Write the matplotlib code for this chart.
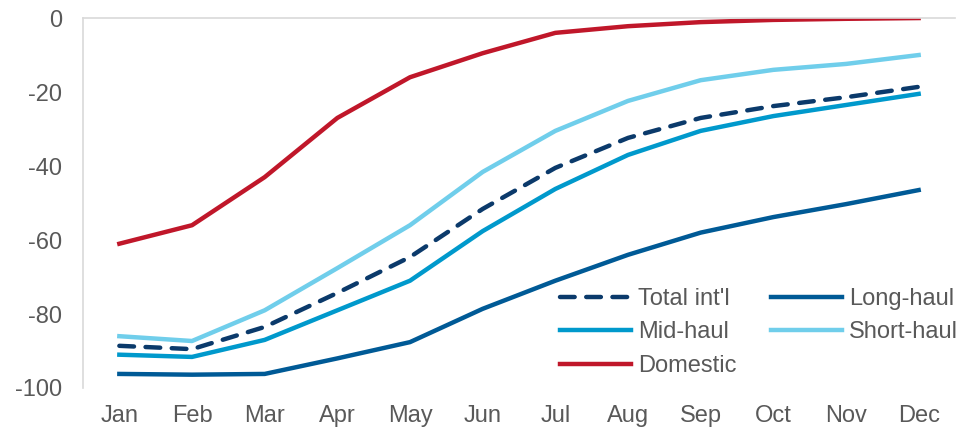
import matplotlib.pyplot as plt
import numpy as np

plt.rcParams['font.family'] = ['Liberation Sans', 'DejaVu Sans']
plt.rcParams['axes.unicode_minus'] = False

# Meses y series (variacion % vs. 2019)
months = ['Jan', 'Feb', 'Mar', 'Apr', 'May', 'Jun', 'Jul', 'Aug', 'Sep', 'Oct', 'Nov', 'Dec']
total_intl = [-88.6, -89.5, -83.5, -74.3, -64.6, -51.6, -40.5, -32.4, -27.0, -23.8, -21.4, -18.6]
long_haul = [-96.2, -96.4, -96.2, -92.0, -87.6, -78.6, -71.0, -64.0, -58.0, -53.8, -50.3, -46.5]
mid_haul = [-91.0, -91.6, -87.0, -79.0, -71.0, -57.6, -46.2, -37.0, -30.5, -26.5, -23.5, -20.5]
short_haul = [-86.0, -87.3, -79.0, -67.6, -56.0, -41.6, -30.5, -22.4, -16.8, -14.0, -12.4, -10.0]
domestic = [-61.0, -56.0, -43.0, -27.0, -16.0, -9.5, -4.0, -2.2, -1.1, -0.5, -0.2, 0.0]

x = np.arange(len(months))
gray = '#595959'
fs = 17

fig = plt.figure(figsize=(9.71, 4.30), dpi=100)
ax = fig.add_axes([0.0855, 0.0977, 0.898, 0.8603])

lw = 3.2
l_tot, = ax.plot(x, total_intl, color='#0B3A6B', lw=lw, ls=(0, (3.3, 2.6)),
                 dash_capstyle='round', label="Total int'l")
l_long, = ax.plot(x, long_haul, color='#005A96', lw=lw, label='Long-haul')
l_mid, = ax.plot(x, mid_haul, color='#0099CC', lw=lw, label='Mid-haul')
l_short, = ax.plot(x, short_haul, color='#70CEEB', lw=lw, label='Short-haul')
l_dom, = ax.plot(x, domestic, color='#C0172A', lw=lw, label='Domestic')

ax.set_xlim(-0.5, 11.5)
ax.set_ylim(-100, 0)
ax.set_xticks(x)
ax.set_xticklabels(months)
ax.set_yticks(np.arange(-100, 1, 20))
ax.tick_params(length=0, labelsize=fs, colors=gray)
ax.tick_params(axis='y', pad=15)
ax.tick_params(axis='x', pad=12)

for s in ['right', 'bottom']:
    ax.spines[s].set_visible(False)
for s in ['left', 'top']:
    ax.spines[s].set_color('#D9D9D9')
    ax.spines[s].set_linewidth(1.2)

handles = [l_tot, l_mid, l_dom, l_long, l_short]
fig.legend(handles, [h.get_label() for h in handles], ncol=2, frameon=False,
           loc='upper left', bbox_to_anchor=(0.5767, 0.330), borderpad=0, borderaxespad=0,
           fontsize=fs, handlelength=3.0, handletextpad=0.3, columnspacing=1.47,
           labelspacing=0.48, labelcolor=gray)

fig.savefig('out.png', dpi=100)
